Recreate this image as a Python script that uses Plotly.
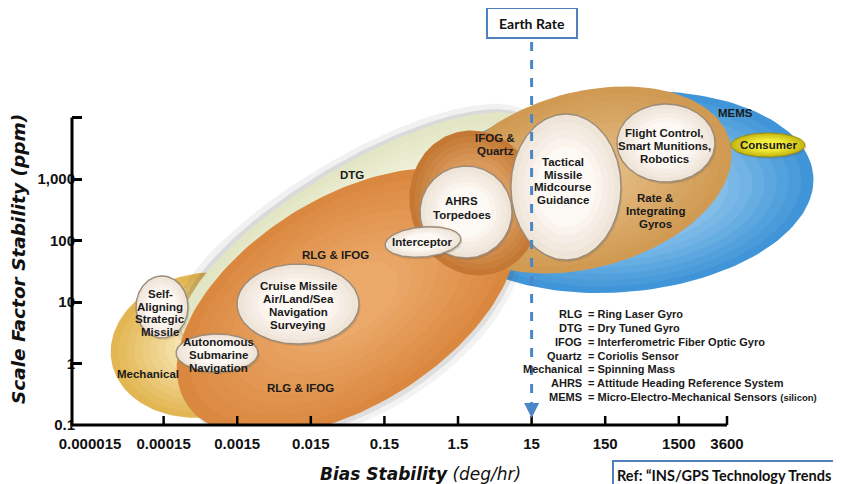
import numpy as np
import plotly.graph_objects as go

# ---------------- data ----------------
# bias stability axis (deg/hr): tick labels and their decade-index positions
x_tick_labels = ["0.000015", "0.00015", "0.0015", "0.015", "0.15", "1.5", "15", "150", "1500", "3600"]
x_tick_pos = [0, 1, 2, 3, 4, 5, 6, 7, 8, 8.655]
# scale factor stability axis (ppm): log10 positions
y_tick_labels = ["0.1", "1", "10", "100", "1,000", ""]
y_tick_pos = [-1, 0, 1, 2, 3, 4]
earth_rate_pos = 6  # 15 deg/hr

# technology regions (centre in bias-index / log10 ppm)
region_names = ["Mechanical", "DTG", "MEMS", "RLG & IFOG", "Rate & Integrating Gyros", "IFOG & Quartz"]
region_cx = [1.563, 3.668, 7.228, 3.492, 6.726, 5.231]
region_cy = [0.301, 2.138, 2.789, 1.000, 2.984, 2.610]

# application bubbles
app_names = ["Self-Aligning Strategic Missile", "Cruise Missile", "Autonomous Submarine Navigation",
             "AHRS Torpedoes", "Interceptor", "Tactical Missile", "Flight Control", "Consumer"]
app_cx = [0.978, 2.826, 1.726, 5.109, 4.524, 6.467, 7.826, 9.212]
app_cy = [0.919, 0.967, 0.171, 2.463, 1.976, 2.870, 3.585, 3.553]

legend_abbr = ["RLG", "DTG", "IFOG", "Quartz", "Mechanical", "AHRS", "MEMS"]
legend_desc = ["Ring Laser Gyro", "Dry Tuned Gyro", "Interferometric Fiber Optic Gyro",
               "Coriolis Sensor", "Spinning Mass", "Attitude Heading Reference System",
               "Micro-Electro-Mechanical Sensors"]

# ---------------- layout geometry ----------------
# page is rendered with an 8px body margin, so the figure is 8px smaller
OFF = 8
W, H = 841 - OFF, 484 - OFF
PLOT_L, PLOT_R, PLOT_T, PLOT_B = 72, 836, 60, 425        # page pixels
ML, MR, MT, MB = PLOT_L - OFF, OFF + W - PLOT_R, PLOT_T - OFF, OFF + H - PLOT_B
XR = [-0.245, 10.136]
YR = [-1.0, 4.935]
PW, PH = PLOT_R - PLOT_L, PLOT_B - PLOT_T
PXX = PW / (XR[1] - XR[0])
PXY = PH / (YR[1] - YR[0])


def xp(v):
    return (v - XR[0]) / (XR[1] - XR[0])


def yp(v):
    return (v - YR[0]) / (YR[1] - YR[0])


def page_x(px):
    return (px - PLOT_L) / PW


def page_y(py):
    return (PLOT_B - py) / PH


fig = go.Figure()


def ellipse(cx, cy, rx, ry, ang, s=1.0, dx=0, dy=0):
    t = np.linspace(0, 2 * np.pi, 160)
    a = np.radians(ang)
    px = rx * s * np.cos(t)
    py = ry * s * np.sin(t)
    xr = px * np.cos(a) - py * np.sin(a)
    yr = px * np.sin(a) + py * np.cos(a)
    x = cx + (xr + dx) / PXX
    y = cy + (yr + dy) / PXY
    y = np.maximum(y, YR[0])
    return x, y


def hex2rgb(h):
    h = h.lstrip("#")
    return [int(h[i:i + 2], 16) for i in (0, 2, 4)]


def mix(c1, c2, f):
    a, b = hex2rgb(c1), hex2rgb(c2)
    return "rgb(%d,%d,%d)" % tuple(round(a[i] + (b[i] - a[i]) * f) for i in range(3))


def add_fill(x, y, color, line_color=None, lw=0):
    fig.add_trace(go.Scatter(x=x, y=y, mode="lines", fill="toself", fillcolor=color,
                             line=dict(color=line_color or "rgba(0,0,0,0)", width=lw),
                             hoverinfo="skip", showlegend=False))


def grad_ellipse(cx, cy, rx, ry, ang, edge, center, n=10, smin=0.3, line_color=None, lw=0):
    for k in range(n):
        f = k / (n - 1)
        s = 1 - (1 - smin) * f
        x, y = ellipse(cx, cy, rx, ry, ang, s)
        add_fill(x, y, mix(edge, center, f), line_color if k == 0 else None, lw if k == 0 else 0)


def shadow(cx, cy, rx, ry, ang, dx, dy, alpha, s=1.0):
    x, y = ellipse(cx, cy, rx, ry, ang, s, dx, dy)
    add_fill(x, y, "rgba(80,80,80,%.2f)" % alpha)


R = dict(zip(region_names, zip(region_cx, region_cy)))
# Mechanical
cx, cy = R["Mechanical"]
grad_ellipse(cx, cy, 95, 72, 10, "#e2b652", "#f8e8b8", n=10, smin=0.25)
# DTG
cx, cy = R["DTG"]
shadow(cx, cy, 205, 66, 31, -6, 6, 0.08, 1.02)
shadow(cx, cy, 205, 66, 31, -3, 3, 0.14)
grad_ellipse(cx, cy, 205, 66, 31, "#e3e6c4", "#f9f8ea", n=8, smin=0.3)
# MEMS
cx, cy = R["MEMS"]
grad_ellipse(cx, cy, 192, 100, 5, "#3f95d8", "#aad6f2", n=12, smin=0.3)
# RLG & IFOG
cx, cy = R["RLG & IFOG"]
shadow(cx, cy, 190, 104, 32, 7, -8, 0.07)
shadow(cx, cy, 190, 104, 32, 3, -4, 0.12)
grad_ellipse(cx, cy, 190, 104, 32, "#da883f", "#eba96a", n=10, smin=0.3)
# Rate & Integrating
cx, cy = R["Rate & Integrating Gyros"]
grad_ellipse(cx, cy, 150, 88, 15, "#d09a52", "#e2b87e", n=10, smin=0.3)
# IFOG & Quartz
cx, cy = R["IFOG & Quartz"]
grad_ellipse(cx, cy, 65, 73, 15, "#c47834", "#d99a5c", n=6, smin=0.6)

# application bubbles (radii in px)
app_rx = [26, 61, 41, 46, 38, 55, 49, 37]
app_ry = [31, 40, 19, 46, 15, 73, 39, 12]
app_ang = [0, 0, 0, 0, 5, 0, 0, 0]
for i in range(len(app_names)):
    shadow(app_cx[i], app_cy[i], app_rx[i], app_ry[i], app_ang[i], 1.5, -2, 0.18)
    if app_names[i] == "Consumer":
        grad_ellipse(app_cx[i], app_cy[i], app_rx[i], app_ry[i], app_ang[i], "#c9bb12", "#f2ec3a",
                     n=5, smin=0.5, line_color="#9a8c10", lw=1)
    else:
        grad_ellipse(app_cx[i], app_cy[i], app_rx[i], app_ry[i], app_ang[i], "#efe4d8", "#fdf9f4",
                     n=5, smin=0.55, line_color="#9b8b78", lw=1.4)

# ---------------- text labels ----------------
annots = []


def label(x, y, lines, size=11.5, spacing=12.7, xanchor="center", fam="Liberation Sans"):
    n = len(lines)
    for i, t in enumerate(lines):
        annots.append(dict(x=x, y=y, xref="x", yref="y", text="<b>%s</b>" % t, showarrow=False,
                           xanchor=xanchor, yanchor="middle",
                           yshift=((n - 1) / 2 - i) * spacing,
                           font=dict(family=fam, size=size, color="#1a1a1a")))


label(8.764, 4.073, ["MEMS"])
label(9.212, 3.545, ["Consumer"])
label(7.81, 3.537, ["Flight Control,", "Smart Munitions,", "Robotics"])
label(7.677, 2.48, ["Rate &", "Integrating", "Gyros"])
label(6.427, 2.967, ["Tactical", "Missile", "Midcourse", "Guidance"])
label(5.503, 3.561, ["IFOG &", "Quartz"])
label(5.054, 2.528, ["AHRS", "Torpedoes"], spacing=14)
label(4.524, 1.98, ["Interceptor"])
label(3.56, 3.065, ["DTG"])
label(3.342, 1.764, ["RLG & IFOG"])
label(2.826, 0.943, ["Cruise Missile", "Air/Land/Sea", "Navigation", "Surveying"])
label(0.951, 0.821, ["Self-", "Aligning", "Strategic", "Missile"])
label(1.739, 0.138, ["Autonomous", "Submarine", "Navigation"])
label(0.788, -0.171, ["Mechanical"])
label(2.853, -0.398, ["RLG & IFOG"])

# abbreviation legend
right_lines = ["= %s" % d for d in legend_desc]
right_lines[-1] += " <span style='font-size:9.5px'>(silicon)</span>"
label(6.71, 0.13, legend_abbr, size=11, spacing=13.8, xanchor="right")
label(6.735, 0.13, right_lines, size=11, spacing=13.8, xanchor="left")

# earth rate box + arrow
annots.append(dict(x=earth_rate_pos, y=page_y(23), xref="x", yref="paper", xanchor="center",
                   yanchor="middle", text="<b>Earth Rate</b>", showarrow=False, bgcolor="white",
                   bordercolor="#4f81bd", borderwidth=2, borderpad=3, width=82, height=22,
                   font=dict(family="Lato", size=14, color="#111")))
annots.append(dict(x=earth_rate_pos, y=page_y(418), xref="x", yref="paper", text="",
                   showarrow=True, ax=0, ay=-14, arrowhead=2, arrowsize=1, arrowwidth=3,
                   arrowcolor="#4a86c8"))
# reference box
annots.append(dict(x=page_x(612), y=page_y(460), xref="paper", yref="paper",
                   xanchor="left", yanchor="top", align="left",
                   text="<b>Ref: \u201cINS/GPS Technology Trends</b>", showarrow=False,
                   bordercolor="#4f81bd", borderwidth=2, borderpad=3, width=300, height=20,
                   bgcolor="white", font=dict(family="Lato", size=14.5, color="#111")))

# axis titles
annots.append(dict(x=page_x(420), y=page_y(474), xref="paper", yref="paper",
                   xanchor="center", yanchor="middle",
                   text="<b><i>Bias Stability</i></b> <i>(deg/hr)</i>", showarrow=False,
                   font=dict(family="DejaVu Sans", size=17, color="#111")))
annots.append(dict(x=page_x(18), y=page_y(259), xref="paper", yref="paper",
                   xanchor="center", yanchor="middle",
                   text="<b><i>Scale Factor Stability (ppm)</i></b>", showarrow=False, textangle=-90,
                   font=dict(family="DejaVu Sans", size=18.5, color="#111")))

# ---------------- shapes: axis lines, ticks, earth-rate line ----------------
shapes = []
shapes.append(dict(type="line", xref="paper", yref="paper", x0=0, x1=xp(x_tick_pos[-1]),
                   y0=0, y1=0, line=dict(color="black", width=3)))
shapes.append(dict(type="line", xref="paper", yref="paper", x0=0, x1=0,
                   y0=0, y1=yp(y_tick_pos[-1]), line=dict(color="black", width=3)))
for v in x_tick_pos[1:]:
    shapes.append(dict(type="line", xref="x", yref="paper", x0=v, x1=v, ysizemode="pixel",
                       yanchor=0, y0=0, y1=9, line=dict(color="black", width=2.5)))
shapes.append(dict(type="line", xref="x", yref="paper", x0=earth_rate_pos, x1=earth_rate_pos,
                   y0=page_y(411), y1=page_y(38),
                   line=dict(color="#4a86c8", width=3, dash="dash")))

fig.update_layout(
    width=W, height=H, margin=dict(l=ML, r=MR, t=MT, b=MB),
    paper_bgcolor="white", plot_bgcolor="white", showlegend=False,
    annotations=annots, shapes=shapes,
    xaxis=dict(range=XR, showgrid=False, zeroline=False, showline=False,
               tickmode="array", tickvals=x_tick_pos, ticktext=x_tick_labels, ticks="",
               ticklabelstandoff=8,
               tickfont=dict(family="Liberation Sans", size=15, color="#111", weight="bold")),
    yaxis=dict(range=YR, showgrid=False, zeroline=False, showline=False,
               tickmode="array", tickvals=y_tick_pos, ticktext=y_tick_labels,
               ticks="inside", ticklen=10, tickwidth=3, tickcolor="black",
               ticklabelstandoff=-4,
               tickfont=dict(family="Liberation Sans", size=15, color="#111", weight="bold")),
)

fig.write_html("out.html")
